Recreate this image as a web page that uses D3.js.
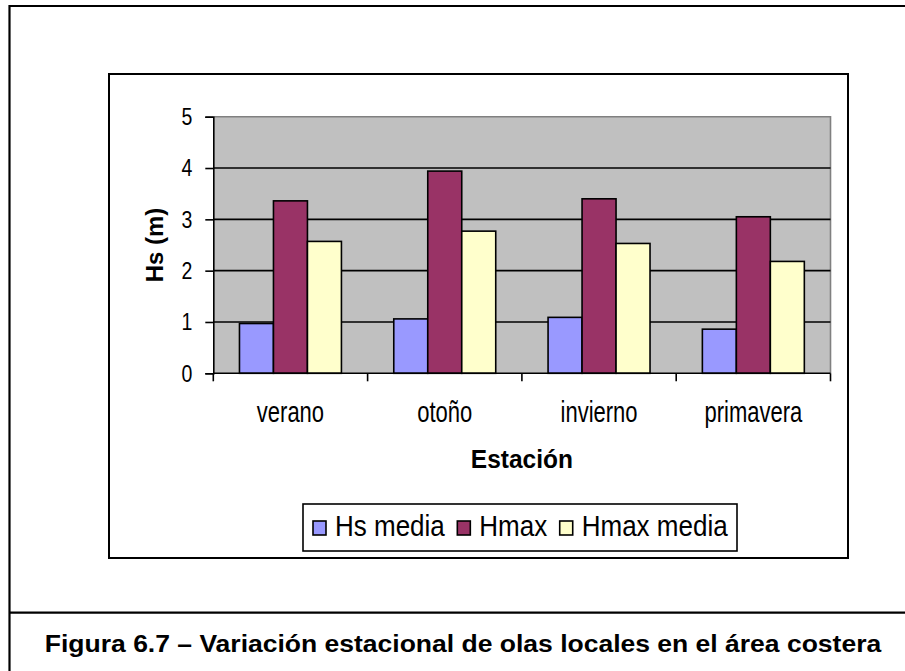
<!DOCTYPE html>
<html>
<head>
<meta charset="utf-8">
<script src="https://cdn.jsdelivr.net/npm/d3@7"></script>
<style>
  body { margin: 0; background: #fff; }
  svg { display: block; font-family: "Liberation Sans", Arial, sans-serif; }
</style>
</head>
<body>
<svg id="chart" width="905" height="671"></svg>
<script>
// data
const categories = ["verano", "otoño", "invierno", "primavera"];
const seriesNames = ["Hs media", "Hmax", "Hmax media"];
const hsMedia = [0.97, 1.06, 1.09, 0.86];
const hmax = [3.36, 3.94, 3.40, 3.05];
const hmaxMedia = [2.57, 2.77, 2.53, 2.18];
const yTicks = [0, 1, 2, 3, 4, 5];
const colors = ["#9999FF", "#993366", "#FFFFCC"];
const caption = "Figura 6.7 – Variación estacional de olas locales en el área costera";

const series = [hsMedia, hmax, hmaxMedia];

const svg = d3.select("#chart");

// outer frame of the figure
svg.append("line").attr("x1", 9).attr("x2", 905).attr("y1", 6).attr("y2", 6)
  .attr("stroke", "#000").attr("stroke-width", 2.2);
svg.append("line").attr("x1", 9.5).attr("x2", 9.5).attr("y1", 5).attr("y2", 671)
  .attr("stroke", "#000").attr("stroke-width", 2.2);
svg.append("line").attr("x1", 9).attr("x2", 905).attr("y1", 612.7).attr("y2", 612.7)
  .attr("stroke", "#000").attr("stroke-width", 2.2);

// chart box
svg.append("rect").attr("x", 109).attr("y", 74).attr("width", 739).attr("height", 484)
  .attr("fill", "#fff").attr("stroke", "#000").attr("stroke-width", 2);

const plot = { left: 213.3, right: 830.5, top: 116.7, bottom: 373.3 };

let x = d3.scaleBand().domain(categories).range([plot.left, plot.right]);
let xSub = d3.scaleBand().domain(seriesNames).range([0, x.bandwidth()]).paddingOuter(0.77);
let y = d3.scaleLinear().domain([0, 5]).range([plot.bottom, plot.top]);

// plot area
svg.append("rect")
  .attr("x", plot.left).attr("y", plot.top)
  .attr("width", plot.right - plot.left).attr("height", plot.bottom - plot.top)
  .attr("fill", "#C0C0C0");
svg.append("path")
  .attr("d", `M${plot.left},${plot.top}H${plot.right}V${plot.bottom}`)
  .attr("fill", "none").attr("stroke", "#808080").attr("stroke-width", 1.6);

// gridlines
svg.append("g").selectAll("line")
  .data(yTicks.filter(d => d > 0 && d < 5))
  .enter()
  .append("line")
  .attr("x1", plot.left).attr("x2", plot.right)
  .attr("y1", d => y(d)).attr("y2", d => y(d))
  .attr("stroke", "#000").attr("stroke-width", 1.6);

// bars
const groups = svg.append("g").selectAll("g")
  .data(categories)
  .enter()
  .append("g")
  .attr("transform", d => `translate(${x(d)},0)`);

groups.selectAll("rect")
  .data((c, i) => seriesNames.map((s, j) => ({ s: s, v: series[j][i], j: j })))
  .enter()
  .append("rect")
  .attr("x", d => xSub(d.s))
  .attr("width", xSub.bandwidth())
  .attr("y", d => y(d.v))
  .attr("height", d => y(0) - y(d.v))
  .attr("fill", d => colors[d.j])
  .attr("stroke", "#000")
  .attr("stroke-width", 1.6);

// y axis
const yAxis = svg.append("g")
  .attr("transform", `translate(${plot.left},0)`)
  .call(d3.axisLeft(y).tickValues(yTicks).tickFormat(d3.format("d")).tickSize(8).tickPadding(13));
yAxis.select(".domain").attr("stroke", "#000").attr("stroke-width", 1.6);
yAxis.selectAll(".tick line").attr("stroke", "#000").attr("stroke-width", 1.6);
yAxis.selectAll(".tick text")
  .attr("fill", "#000")
  .style("font-size", "19.5px")
  .attr("transform", "scale(1,1.25)");

// x axis
svg.append("line")
  .attr("x1", plot.left).attr("x2", plot.right)
  .attr("y1", plot.bottom).attr("y2", plot.bottom)
  .attr("stroke", "#000").attr("stroke-width", 1.6);
const xTickPos = categories.map(c => x(c)).concat([x.range()[1]]);
svg.append("g").selectAll("line")
  .data(xTickPos)
  .enter()
  .append("line")
  .attr("x1", d => d).attr("x2", d => d)
  .attr("y1", plot.bottom).attr("y2", plot.bottom + 8)
  .attr("stroke", "#000").attr("stroke-width", 1.6);

svg.append("g").selectAll("g")
  .data(categories)
  .enter()
  .append("g")
  .attr("transform", d => `translate(${x(d) + x.bandwidth() / 2},421.7) scale(1,1.3)`)
  .append("text")
  .attr("text-anchor", "middle")
  .style("font-size", "22px")
  .text(d => d);

// axis titles
svg.append("text")
  .attr("transform", `translate(163,${(plot.top + plot.bottom) / 2}) rotate(-90)`)
  .attr("text-anchor", "middle")
  .style("font-size", "24px").style("font-weight", "bold")
  .text("Hs (m)");

svg.append("g")
  .attr("transform", `translate(${(plot.left + plot.right) / 2},467.5) scale(1,1.05)`)
  .append("text")
  .attr("text-anchor", "middle")
  .style("font-size", "24.5px").style("font-weight", "bold")
  .text("Estación");

// legend
const legend = svg.append("g");
legend.append("rect")
  .attr("x", 303).attr("y", 504).attr("width", 434).attr("height", 47)
  .attr("fill", "#fff").attr("stroke", "#000").attr("stroke-width", 1.6);

let cur = 313;
seriesNames.forEach((s, j) => {
  legend.append("rect")
    .attr("x", cur).attr("y", 521).attr("width", 13).attr("height", 14)
    .attr("fill", colors[j]).attr("stroke", "#000").attr("stroke-width", 1.6);
  const t = legend.append("g")
    .attr("transform", `translate(${cur + 22},535.7) scale(1,1.1)`)
    .append("text")
    .style("font-size", "26px")
    .text(s);
  cur = cur + 22 + t.node().getComputedTextLength() + 12.5;
});

// caption
svg.append("g")
  .attr("transform", "translate(463,651.7) scale(1,0.92)")
  .append("text")
  .attr("text-anchor", "middle")
  .style("font-size", "26.5px").style("font-weight", "bold")
  .text(caption);
</script>
</body>
</html>
